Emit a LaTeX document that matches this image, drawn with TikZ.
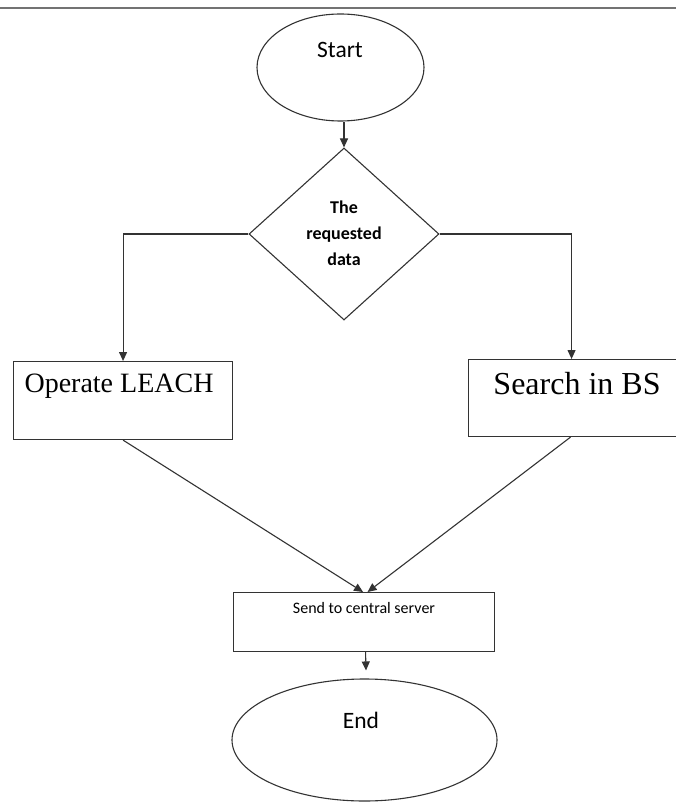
\documentclass[tikz,border=0pt]{standalone}
\usepackage{fontspec}
\setmainfont{Liberation Serif}
\newfontfamily\carlitofont{Carlito}
\usetikzlibrary{shapes.geometric,arrows.meta}
\begin{document}
\begin{tikzpicture}[x=1pt,y=-1pt,
  line/.style={draw=black!80,line width=1.1pt},
  arr/.style={line,-{Triangle[length=9pt,width=8pt]}},
  oval/.style={ellipse,line,inner sep=0pt},
  boxn/.style={rectangle,line,inner sep=0pt,anchor=north west},
  txt/.style={inner sep=0pt,text=black}
]
\useasboundingbox (0,0) rectangle (676,802);
\fill[white] (0,0) rectangle (676,802);
\coordinate (tl) at (0,8);
\coordinate (tr) at (676,8);
\draw[black!55,line width=2pt] (tl) -- (tr);

\node[oval,minimum width=167pt,minimum height=107pt] (start) at (340.5,67.5) {};
\node[txt,font=\carlitofont\fontsize{23.5}{26}\selectfont] (starttxt) at (340,50) {Start};

\node[diamond,line,inner sep=0pt,minimum width=190pt,minimum height=172pt] (dia) at (344,234) {};
\node[txt,align=center,font=\carlitofont\bfseries\fontsize{18}{26}\selectfont] (diatxt) at (344,233) {The\\requested\\data};

\node[boxn,minimum width=219pt,minimum height=78pt] (lbox) at (13,361) {};
\node[txt,font=\fontsize{28}{30}\selectfont] (ltxt) at (119,386) {Operate LEACH};

\node[boxn,minimum width=209pt,minimum height=77pt] (rbox) at (468,359) {};
\node[txt,font=\fontsize{32}{34}\selectfont] (rtxt) at (577,384) {Search in BS};

\node[boxn,minimum width=261pt,minimum height=59pt] (send) at (233,592) {};
\node[txt,font=\carlitofont\fontsize{16}{18}\selectfont] (sendtxt) at (364,608) {Send to central server};

\node[oval,minimum width=265pt,minimum height=122pt] (end) at (364.5,740) {};
\node[txt,font=\carlitofont\fontsize{23.5}{26}\selectfont] (endtxt) at (361,720) {End};

\draw[arr] (start.south -| dia.north) -- (dia.north);
\draw[arr] (dia.west) -| (lbox.north);
\draw[arr] (dia.east) -| ([xshift=-1.5pt]rbox.north);
\draw[arr] (lbox.south) -- ([xshift=-1pt]send.north);
\draw[arr] ([xshift=-2.5pt]rbox.south) -- ([xshift=3.5pt]send.north);
\draw[arr] ([xshift=1.5pt]send.south) -- ([xshift=1.5pt,yshift=8pt]end.north);
\end{tikzpicture}
\end{document}
